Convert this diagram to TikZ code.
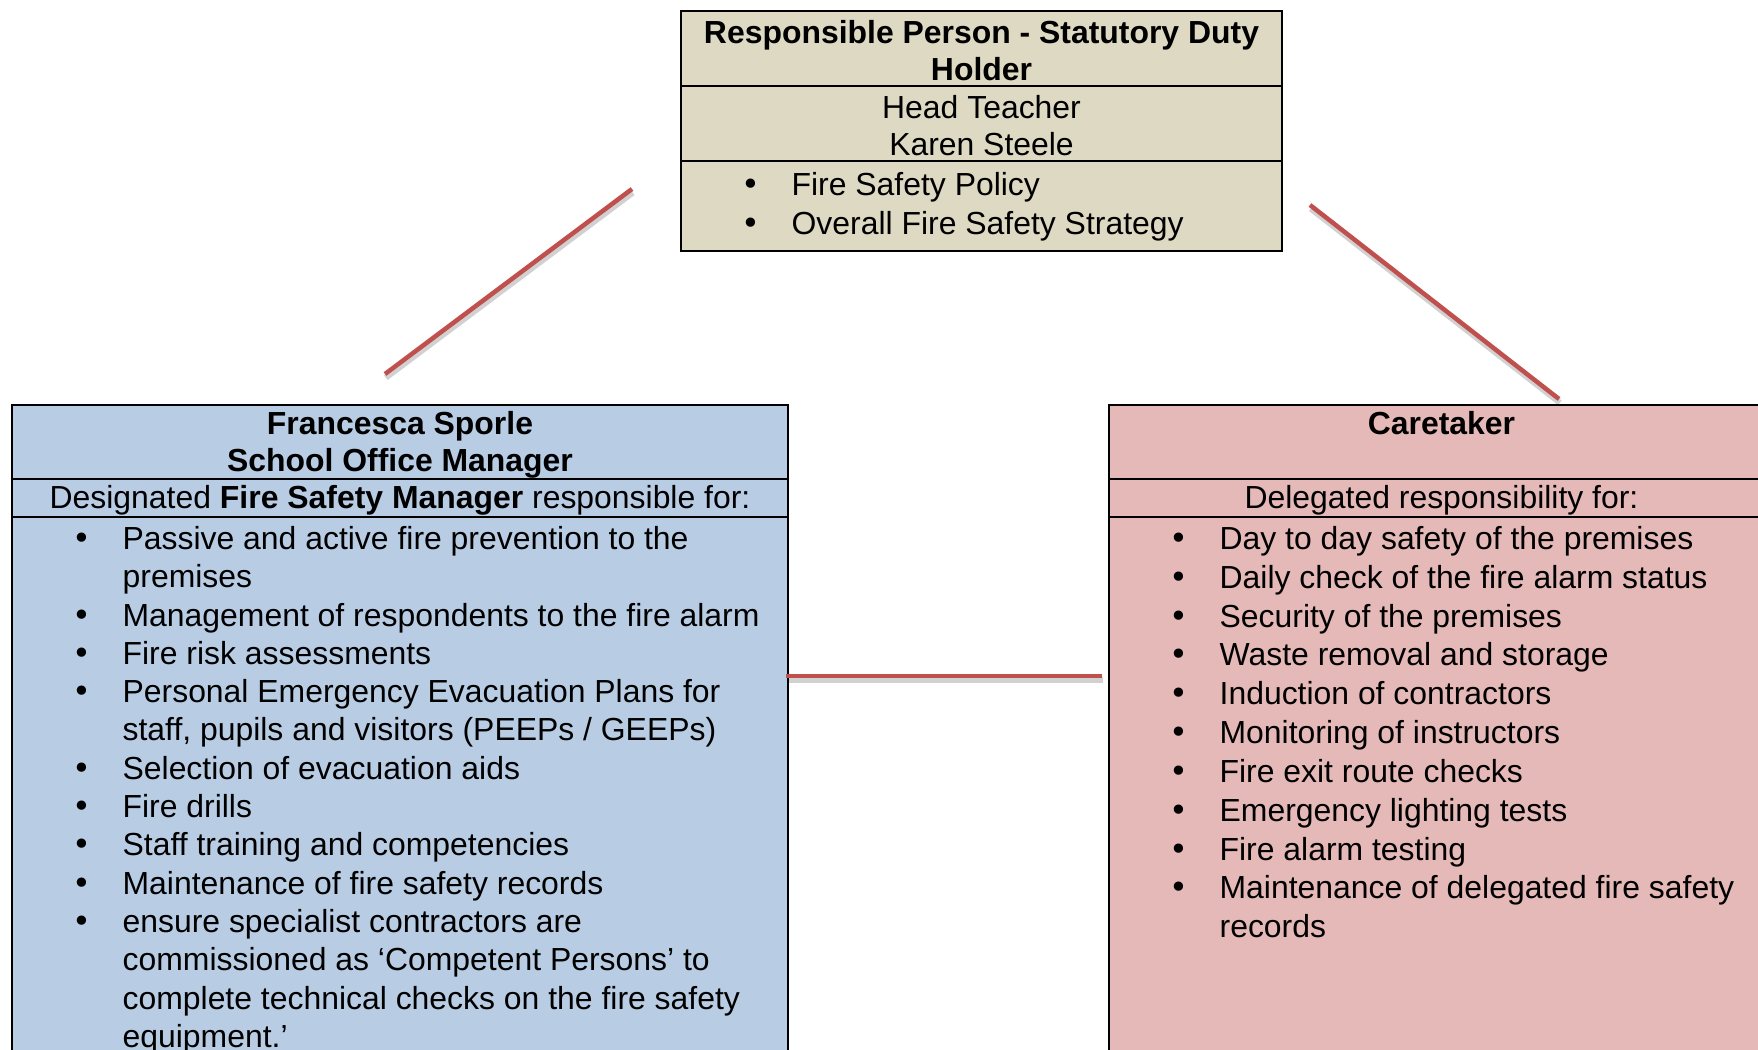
\documentclass[tikz,border=0pt]{standalone}
\usepackage{fontspec}
\setmainfont{Liberation Sans}
\newfontfamily\bulfont{DejaVu Sans}
\usepackage{tikz}
\usepackage{color}

\newcommand{\fsstrut}{\rule{0pt}{9.5pt}}
\newcommand{\fsbul}{\makebox[41.4pt][l]{\hspace{22.4pt}{\bulfont •}}}
\newcommand{\fsind}{\hspace*{41.4pt}}

\tikzset{
  cellbox/.style={draw=black, line width=0.55pt},
  rpcell/.style={cellbox, fill={rgb, 255:red, 221; green, 217; blue, 195 }},
  fsmcell/.style={cellbox, fill={rgb, 255:red, 184; green, 204; blue, 228 }},
  ctcell/.style={cellbox, fill={rgb, 255:red, 229; green, 185; blue, 183 }},
  celltext/.style={inner xsep=0pt, inner ysep=2.5pt, anchor=north, align=center, font=\fontsize{12}{13.8}\selectfont},
  headtext/.style={celltext, font=\fontsize{12}{13.8}\selectfont\bfseries},
  listtext/.style={celltext, anchor=north west, align=left, font=\fontsize{12}{14.4}\selectfont},
  widelist/.style={listtext, font=\fontsize{12}{14.6}\selectfont},
  link/.style={draw={rgb, 255:red, 192; green, 80; blue, 77 }, line width=1.7pt},
  linkshadow/.style={draw=black, draw opacity=0.18, line width=2.2pt, transform canvas={xshift=0.3pt, yshift=-1.4pt}}
}

\begin{document}
\begin{tikzpicture}[x=0.376pt,y=0.376pt,yscale=-1,xscale=1]
\useasboundingbox (0,0) rectangle (1758,1049);
\clip (0,0) rectangle (1758,1049);

%Shape: Rectangle - responsible person
\draw [rpcell] (681,11) rectangle (1282,251);
\draw [cellbox] (681,86) -- (1282,86);
\draw [cellbox] (681,161) -- (1282,161);
%Shape: Rectangle - fire safety manager
\draw [fsmcell] (12,405) rectangle (788,1070);
\draw [cellbox] (12,479) -- (788,479);
\draw [cellbox] (12,517) -- (788,517);
%Shape: Rectangle - caretaker
\draw [ctcell] (1109,405) rectangle (1774,1070);
\draw [cellbox] (1109,479) -- (1774,479);
\draw [cellbox] (1109,517) -- (1774,517);

%Link ends
\coordinate (rp-west-end) at (632,189);
\coordinate (fsm-top-end) at (385,374);
\coordinate (rp-east-end) at (1310,205);
\coordinate (ct-top-end) at (1559,399);
\coordinate (fsm-east-end) at (786,676);
\coordinate (ct-west-end) at (1102,676);

%Straight Lines
\draw [linkshadow] (rp-west-end) -- (fsm-top-end);
\draw [link] (rp-west-end) -- (fsm-top-end);
%Straight Lines
\draw [linkshadow] (rp-east-end) -- (ct-top-end);
\draw [link] (rp-east-end) -- (ct-top-end);
%Straight Lines
\draw [linkshadow] (fsm-east-end) -- (ct-west-end);
\draw [link] (fsm-east-end) -- (ct-west-end);

% Text Node
\node [headtext] (rp-title) at (981.5,11) {\fsstrut Responsible Person - Statutory Duty\\Holder};
% Text Node
\node [celltext] (rp-name) at (981.5,86) {\fsstrut Head Teacher\\Karen Steele};
% Text Node
\node [widelist, font=\fontsize{12}{14.8}\selectfont] (rp-duties) at (681,163) {\fsstrut\fsbul Fire Safety Policy\\
  \fsbul Overall Fire Safety Strategy};

% Text Node
\node [headtext] (fsm-title) at (400,402.5) {\fsstrut Francesca Sporle\\School Office Manager};
% Text Node
\node [celltext] (fsm-role) at (400,476.5) {\fsstrut Designated \textbf{Fire Safety Manager} responsible for:};
% Text Node
\node [listtext] (fsm-duties) at (12,517) {\fsstrut\fsbul Passive and active fire prevention to the\\
  \fsind premises\\
  \fsbul Management of respondents to the fire alarm\\
  \fsbul Fire risk assessments\\
  \fsbul Personal Emergency Evacuation Plans for\\
  \fsind staff, pupils and visitors (PEEPs / GEEPs)\\
  \fsbul Selection of evacuation aids\\
  \fsbul Fire drills\\
  \fsbul Staff training and competencies\\
  \fsbul Maintenance of fire safety records\\
  \fsbul ensure specialist contractors are\\
  \fsind commissioned as ‘Competent Persons’ to\\
  \fsind complete technical checks on the fire safety\\
  \fsind equipment.’};

% Text Node
\node [headtext] (ct-title) at (1441.5,402.5) {\fsstrut Caretaker};
% Text Node
\node [celltext] (ct-role) at (1441.5,476.5) {\fsstrut Delegated responsibility for:};
% Text Node
\node [widelist] (ct-duties) at (1109,517) {\fsstrut\fsbul Day to day safety of the premises\\
  \fsbul Daily check of the fire alarm status\\
  \fsbul Security of the premises\\
  \fsbul Waste removal and storage\\
  \fsbul Induction of contractors\\
  \fsbul Monitoring of instructors\\
  \fsbul Fire exit route checks\\
  \fsbul Emergency lighting tests\\
  \fsbul Fire alarm testing\\
  \fsbul Maintenance of delegated fire safety\\
  \fsind records};

\end{tikzpicture}
\end{document}
